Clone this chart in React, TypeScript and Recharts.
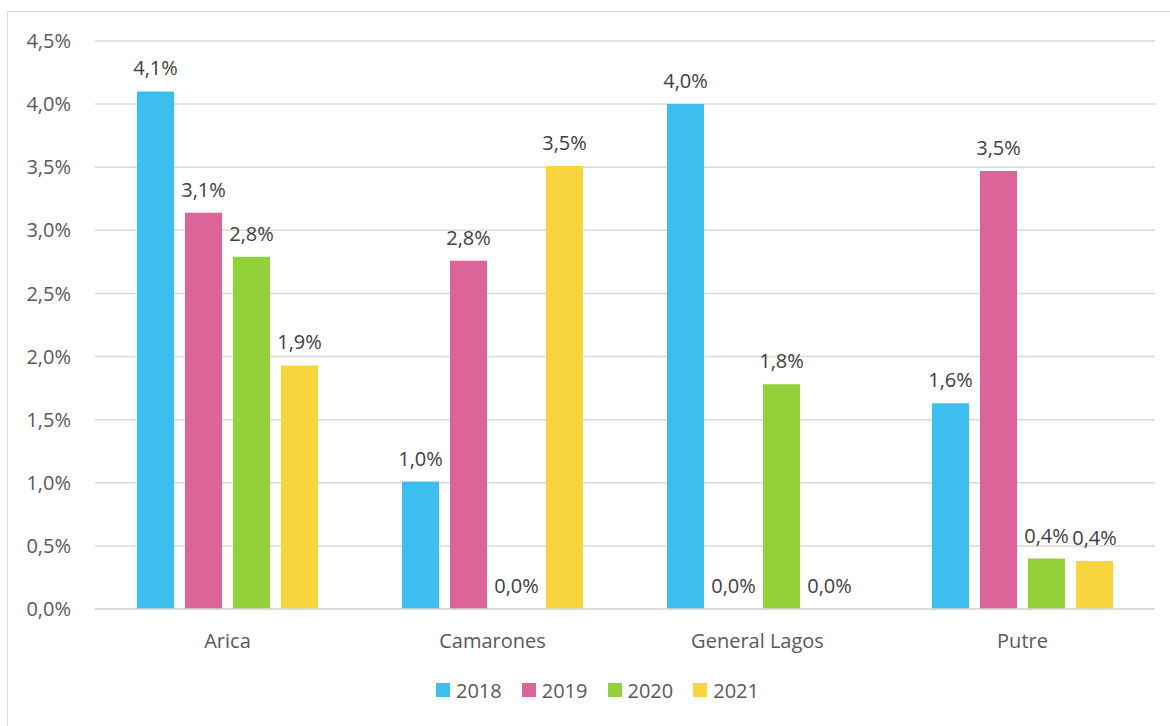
import React from 'react'
import { BarChart, Bar, XAxis, YAxis, CartesianGrid, Legend, LabelList } from 'recharts'

const comunas = ['Arica', 'Camarones', 'General Lagos', 'Putre']
const y2018 = [4.1, 1.01, 4.0, 1.63]
const y2019 = [3.14, 2.76, 0, 3.47]
const y2020 = [2.79, 0, 1.78, 0.4]
const y2021 = [1.93, 3.51, 0, 0.38]
const yTicks = [0, 0.5, 1, 1.5, 2, 2.5, 3, 3.5, 4, 4.5]

const SERIES = [
  { key: '2018', color: '#3CBFEF' },
  { key: '2019', color: '#DC6499' },
  { key: '2020', color: '#92D13A' },
  { key: '2021', color: '#F8D53C' },
]

const data = comunas.map((name, i) => ({
  name,
  '2018': y2018[i],
  '2019': y2019[i],
  '2020': y2020[i],
  '2021': y2021[i],
}))

const FONT = '"Open Sans", sans-serif'
const pct = (v: number) => v.toFixed(1).replace('.', ',') + '%'

// labels drawn by hand so that zero-height bars still get their "0,0%"
const BarValue = (props: any) => {
  const { x, y, width, value } = props
  if (value == null) return null
  return (
    <text
      x={Number(x) + Number(width) / 2}
      y={Number(y) - 16}
      textAnchor="middle"
      fill="#404040"
      fontSize={20}
      fontFamily={FONT}
    >
      {pct(Number(value))}
    </text>
  )
}

const LegendContent = () => (
  <div style={{ display: 'flex', alignItems: 'center', fontFamily: FONT, fontSize: 20, color: '#595959' }}>
    {SERIES.map((s) => (
      <div key={s.key} style={{ display: 'flex', alignItems: 'center', marginRight: 20 }}>
        <span style={{ width: 14, height: 14, background: s.color, display: 'inline-block', marginRight: 6 }} />
        <span>{s.key}</span>
      </div>
    ))}
  </div>
)

export default function App() {
  return (
    <div style={{ position: 'fixed', left: 0, top: 0, width: 1170, height: 726, overflow: 'hidden', background: '#fff' }}>
      <div
        style={{
          position: 'absolute',
          left: 7,
          top: 11,
          width: 1300,
          height: 900,
          border: '1px solid #d9d9d9',
        }}
      />
      <div style={{ position: 'absolute', left: 0, top: 0 }}>
        <BarChart
          width={1170}
          height={726}
          data={data}
          margin={{ top: 41, right: 15, left: 0, bottom: 15 }}
          barSize={37}
          barGap={11}
        >
          <CartesianGrid vertical={false} stroke="#d9d9d9" strokeWidth={1.5} />
          <XAxis
            dataKey="name"
            height={60}
            tickLine={false}
            tickSize={0}
            tickMargin={25}
            axisLine={{ stroke: '#d9d9d9', strokeWidth: 1.5 }}
            tick={{ fill: '#595959', fontSize: 20, fontFamily: FONT }}
          />
          <YAxis
            width={95}
            domain={[0, 4.5]}
            ticks={yTicks}
            tickFormatter={pct}
            axisLine={false}
            tickLine={false}
            tickSize={0}
            tickMargin={24}
            tick={{ fill: '#595959', fontSize: 20, fontFamily: FONT }}
          />
          <Legend
            verticalAlign="bottom"
            content={LegendContent}
            wrapperStyle={{ left: 436, width: 360, height: 42, display: 'flex', alignItems: 'center' }}
          />
          {SERIES.map((s) => (
            <Bar key={s.key} dataKey={s.key} fill={s.color} minPointSize={0.01} isAnimationActive={false}>
              <LabelList dataKey={s.key} content={BarValue} />
            </Bar>
          ))}
        </BarChart>
      </div>
    </div>
  )
}
